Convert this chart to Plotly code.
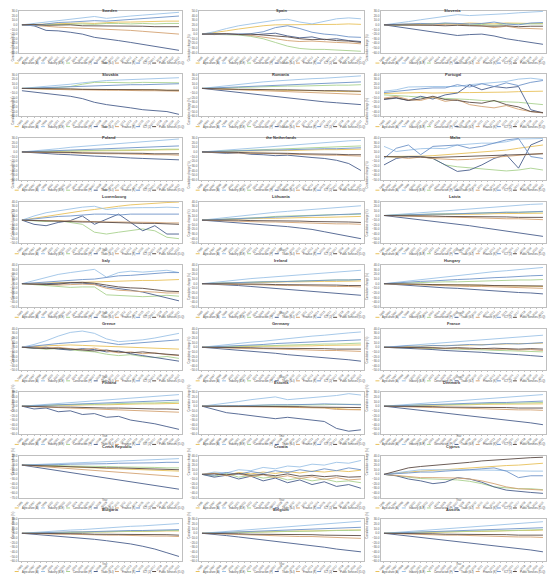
import plotly.graph_objects as go

# Годы по оси X и точки, где есть данные
years = list(range(1995, 2022))
data_years = years[::2]

series = ["Agriculture (A)", "Industry (B-E)", "Construction (F)", "Trade (G-I)",
          "Finance (K)", "ICT (J)", "Public Services (O-Q)"]
colors = ["#E8C15A", "#9DC3E6", "#A9D18E", "#4A5F8C", "#D4A373", "#6F94C8", "#5B4B44"]

countries = ["Sweden", "Spain", "Slovenia", "Slovakia", "Romania", "Portugal",
             "Poland", "the Netherlands", "Malta", "Luxembourg", "Lithuania", "Latvia",
             "Italy", "Ireland", "Hungary", "Greece", "Germany", "France",
             "Finland", "Estonia", "Denmark", "Czech Republic", "Croatia", "Cyprus",
             "Bulgaria", "Belgium", "Austria"]

y_ranges = [[-60, 30], [-40, 50], [-60, 30], [-60, 30], [-60, 30], [-50, 40],
            [-60, 30], [-60, 30], [-50, 40], [-50, 40], [-50, 40], [-60, 30],
            [-50, 40], [-50, 40], [-50, 40], [-50, 40], [-50, 40], [-50, 40],
            [-60, 30], [-60, 30], [-60, 30], [-70, 20], [-50, 40], [-50, 40],
            [-60, 30], [-60, 30], [-60, 30]]

sweden = [[0, 1, 2, 3, 4, 4, 3, 5, 6, 6, 7, 7, 8, 8],
          [0, 3, 6, 10, 13, 16, 18, 14, 17, 19, 21, 23, 25, 27],
          [0, -1, 0, 1, 1, 2, 1, 3, 3, 2, 3, 2, 3, 3],
          [0, -2, -12, -13, -16, -20, -27, -30, -34, -38, -42, -46, -50, -55],
          [0, -1, -3, -5, -6, -7, -8, -9, -11, -12, -14, -16, -18, -20],
          [0, -2, 2, 5, 6, 8, 9, 8, 10, 11, 13, 15, 17, 19],
          [0, 1, -1, -1, 0, -2, -2, -3, -2, -3, -3, -4, -4, -4]]
spain = [[0, 3, 7, 11, 15, 18, 20, 20, 21, 20, 20, 21, 22, 21],
         [0, 5, 12, 18, 22, 26, 30, 32, 26, 22, 27, 33, 35, 33],
         [0, -1, -1, -2, -5, -10, -18, -26, -31, -33, -33, -34, -36, -37],
         [0, -1, 0, -1, -2, 0, 2, -4, -8, -6, -12, -10, -14, -16],
         [0, 0, -1, 0, -3, -6, -10, -14, -16, -15, -17, -18, -19, -21],
         [0, 1, 0, 0, 1, 5, 14, 18, 12, 4, 0, -2, -6, -7],
         [0, 0, 1, -1, 0, -2, -4, -6, -10, -12, -11, -14, -15, -18]]
slovenia = [[0, 1, 1, 2, 3, 3, 2, 4, 3, 2, 4, 3, 3, 3],
            [0, 3, 7, 11, 15, 19, 22, 20, 21, 22, 24, 26, 28, 29],
            [0, -1, 0, 1, 2, 3, 2, 0, 1, -1, 2, 2, 3, 2],
            [0, -4, -8, -11, -15, -19, -23, -21, -20, -24, -30, -34, -38, -42],
            [0, 0, -1, -1, 0, 1, 2, -1, -2, -6, -3, -7, -8, -9],
            [0, 1, 2, 3, 2, 4, 3, 2, 3, 6, 2, 0, 4, 5],
            [0, 0, -1, 0, -1, -2, -1, -2, -3, -3, -2, -4, -3, -3]]
slovakia = [[0, -1, -1, -2, -2, -2, -3, -3, -2, -3, -3, -3, -4, -4],
            [0, 2, 4, 6, 9, 12, 15, 17, 18, 19, 20, 21, 22, 23],
            [0, 0, 1, 2, 4, 9, 13, 13, 12, 12, 13, 13, 12, 12],
            [-5, -8, -10, -13, -17, -22, -30, -35, -38, -42, -46, -48, -50, -56],
            [0, -1, -2, -2, -3, -3, -4, -4, -4, -5, -5, -5, -6, -6],
            [0, 1, 2, 3, 4, 5, 6, 6, 7, 8, 8, 9, 9, 10],
            [0, 0, -1, -1, -1, -2, -2, -2, -3, -3, -3, -3, -4, -4]]
romania = [[0, -1, -2, -2, -3, -3, -4, -4, -5, -5, -6, -6, -7, -7],
           [0, 3, 6, 9, 12, 14, 16, 18, 19, 21, 22, 24, 25, 27],
           [0, 0, 1, 2, 3, 3, 4, 5, 5, 6, 6, 7, 7, 8],
           [0, -3, -6, -9, -12, -15, -18, -21, -24, -27, -29, -31, -33, -35],
           [0, -1, -2, -3, -4, -5, -6, -7, -8, -9, -10, -11, -12, -13],
           [0, 1, 2, 3, 5, 6, 7, 8, 9, 10, 11, 12, 13, 14],
           [0, -1, -1, -2, -2, -3, -3, -3, -4, -4, -5, -5, -5, -6]]
portugal = [[-1, 0, 0, 1, 0, 1, 1, 1, 1, 2, 2, 3, 3, 4],
            [4, 7, 13, 14, 14, 14, 14, 18, 20, 22, 25, 30, 32, 29],
            [-4, -5, -7, -9, -10, -12, -13, -14, -16, -18, -19, -20, -23, -25],
            [-14, -11, -16, -7, -13, -4, 0, 18, 7, 14, 11, 14, -36, -43],
            [-11, -7, -14, -16, -9, -18, -14, -25, -29, -32, -27, -35, -40, -43],
            [1, 4, 7, 9, 11, 11, 18, 13, 20, 14, 22, 16, 23, 27],
            [-13, -10, -16, -13, -7, -14, -16, -20, -22, -16, -25, -30, -40, -42]]
poland = [[0, 0, 1, 1, 2, 2, 2, 3, 3, 3, 4, 4, 4, 5],
          [0, 2, 5, 7, 10, 12, 14, 16, 18, 20, 22, 24, 26, 28],
          [0, 1, 1, 2, 2, 3, 3, 4, 4, 4, 5, 5, 6, 6],
          [0, -2, -3, -5, -6, -8, -9, -10, -12, -13, -14, -15, -16, -17],
          [0, -1, -1, -2, -2, -3, -3, -4, -4, -5, -5, -6, -6, -7],
          [0, 1, 2, 3, 4, 5, 6, 7, 8, 9, 10, 11, 12, 13],
          [0, 0, -1, -1, -1, -2, -2, -2, -3, -3, -3, -4, -4, -4]]
netherlands = [[0, 1, 1, 2, 2, 3, 3, 3, 4, 4, 5, 5, 5, 6],
               [0, 2, 4, 7, 9, 11, 13, 15, 16, 18, 20, 22, 24, 25],
               [0, 1, 3, 4, 5, 6, 7, 8, 9, 10, 11, 11, 12, 13],
               [0, -1, -3, -2, -5, -6, -8, -7, -10, -12, -14, -18, -25, -40],
               [0, -1, -1, -2, -3, -3, -4, -5, -5, -6, -7, -7, -8, -9],
               [0, 1, 1, 2, 3, 4, 4, 5, 5, 6, 7, 7, 8, 9],
               [0, 0, -1, -1, -2, -2, -3, -3, -4, -4, -5, -5, -6, -6]]
malta = [[0, 0, 1, 1, 2, 4, 5, 7, 9, 12, 14, 18, 22, 25],
         [22, 11, 14, 17, 18, 17, 25, 27, 29, 29, 32, 38, 39, 39],
         [0, -1, 0, 0, -4, -18, -22, -24, -27, -29, -31, -29, -25, -29],
         [-18, -4, 0, 0, -4, -18, -32, -29, -18, -4, 4, -25, 25, 36],
         [0, -1, -4, -1, -4, -5, -7, -6, -4, -2, 0, 2, 5, 7],
         [-4, 18, 25, 4, 22, 24, 25, 18, 22, 29, 36, 39, 0, -4],
         [0, 0, -1, -1, -2, -1, -1, 0, 1, 2, 4, 4, 5, 6]]
luxembourg = [[0, 4, 9, 13, 16, 20, 23, 27, 30, 33, 35, 37, 38, 39],
              [0, 9, 16, 20, 23, 28, 30, 23, 26, 27, 27, 27, 28, 27],
              [0, -1, -3, -1, -5, -9, -26, -30, -26, -23, -19, -23, -37, -40],
              [0, -9, -12, -5, -1, 9, -9, 2, 13, -5, -23, -12, -30, -30],
              [0, -1, -1, -1, -2, -3, -3, -4, -4, -4, -5, -5, -6, -6],
              [0, 3, 6, 8, 9, 11, 13, 13, 11, 13, 13, 13, 14, 13],
              [0, -1, -1, -2, -3, -4, -4, -5, -6, -6, -7, -7, -8, -9]]
lithuania = [[0, 1, 2, 2, 3, 4, 4, 5, 5, 6, 6, 7, 7, 8],
             [0, 3, 6, 9, 12, 15, 17, 19, 21, 23, 25, 27, 29, 31],
             [0, 1, 2, 3, 5, 6, 8, 9, 9, 10, 11, 12, 12, 13],
             [0, -2, -4, -5, -7, -9, -11, -14, -17, -20, -25, -30, -35, -40],
             [0, -1, -2, -2, -3, -4, -4, -5, -6, -6, -7, -8, -8, -9],
             [0, 1, 2, 3, 4, 5, 6, 8, 9, 10, 11, 12, 13, 14],
             [0, 0, 1, 0, -1, -1, -2, -2, -2, -3, -3, -4, -4, -5]]
latvia = [[0, 0, 1, 1, 2, 2, 3, 3, 3, 4, 4, 5, 5, 5],
          [0, 2, 5, 7, 9, 11, 13, 15, 17, 19, 20, 22, 24, 25],
          [0, 1, 2, 2, 3, 4, 4, 5, 6, 6, 7, 7, 8, 8],
          [0, -3, -6, -9, -12, -16, -19, -22, -26, -30, -33, -37, -41, -45],
          [0, -1, -1, -2, -3, -3, -4, -5, -5, -6, -7, -7, -8, -9],
          [0, 1, 1, 2, 3, 3, 4, 5, 5, 6, 7, 7, 8, 9],
          [0, 0, -1, -1, -1, -2, -2, -2, -3, -3, -3, -4, -4, -4]]
italy = [[0, 1, 1, 2, 3, 3, 4, 5, 5, 6, 7, 7, 8, 9],
         [0, 7, 14, 20, 24, 27, 31, 14, 24, 27, 25, 27, 29, 24],
         [0, -2, -5, -7, -8, -7, -7, -24, -25, -27, -28, -27, -25, -27],
         [0, -1, 0, 1, 2, 1, -1, -7, -10, -14, -18, -24, -31, -37],
         [0, -1, -3, -3, -2, -1, -2, -10, -14, -16, -17, -18, -20, -20],
         [0, 2, 3, 5, 7, 9, 10, 14, 17, 18, 20, 22, 24, 24],
         [0, -1, -2, -1, 2, 3, 1, -3, -7, -9, -10, -13, -16, -17]]
ireland = [[0, 1, 1, 2, 2, 3, 3, 4, 4, 5, 5, 5, 6, 6],
           [0, 3, 6, 8, 11, 13, 15, 17, 19, 21, 23, 25, 27, 29],
           [0, 1, 2, 3, 3, 4, 5, 5, 6, 7, 7, 8, 8, 9],
           [0, -1, -3, -4, -6, -8, -10, -12, -14, -16, -18, -20, -23, -25],
           [0, -1, -1, -2, -2, -3, -3, -4, -4, -5, -5, -6, -6, -7],
           [0, 1, 2, 2, 3, 4, 4, 5, 6, 6, 7, 8, 8, 9],
           [0, 0, 0, -1, -1, -1, -2, -2, -2, -3, -3, -3, -4, -4]]
hungary = [[0, -1, -1, -2, -2, -3, -3, -3, -4, -4, -5, -5, -5, -6],
           [0, 3, 6, 9, 12, 15, 18, 21, 23, 26, 28, 30, 33, 35],
           [0, 1, 2, 2, 3, 4, 4, 5, 6, 6, 7, 8, 8, 9],
           [0, -2, -4, -5, -7, -9, -10, -12, -14, -15, -17, -19, -20, -22],
           [0, -1, -2, -3, -3, -4, -5, -6, -6, -7, -8, -8, -9, -10],
           [0, 2, 3, 5, 6, 8, 9, 10, 12, 13, 14, 16, 17, 18],
           [0, 0, -1, -1, -2, -2, -2, -3, -3, -4, -4, -4, -5, -5]]
greece = [[0, 2, 3, 4, 5, 4, 3, 2, 1, 0, -1, -2, -3, -4],
          [0, 6, 14, 24, 32, 35, 30, 18, 12, 14, 16, 20, 25, 30],
          [0, -2, -4, -3, -6, -8, -10, -15, -18, -16, -20, -22, -20, -24],
          [0, -2, 0, -4, -6, -3, -5, -10, -8, -14, -18, -22, -26, -30],
          [0, 1, -2, 0, -3, -5, -2, -8, -12, -10, -14, -12, -16, -18],
          [0, 3, 6, 8, 10, 12, 14, 10, 6, 8, 10, 12, 14, 16],
          [0, -1, -3, -2, -4, -6, -8, -6, -10, -12, -10, -13, -15, -17]]
germany = [[0, 0, 1, 1, 2, 2, 2, 3, 3, 3, 4, 4, 4, 5],
           [0, 3, 5, 8, 11, 13, 16, 19, 21, 24, 26, 29, 31, 33],
           [0, 1, 1, 2, 3, 3, 4, 5, 5, 6, 7, 7, 8, 9],
           [0, -2, -4, -7, -9, -11, -13, -16, -18, -20, -22, -25, -27, -30],
           [0, -1, -1, -2, -3, -3, -4, -5, -5, -6, -7, -7, -8, -9],
           [0, 1, 3, 4, 5, 6, 8, 9, 10, 11, 13, 14, 15, 16],
           [0, 0, -1, -1, -1, -2, -2, -2, -3, -3, -3, -4, -4, -4]]
france = [[0, 1, 2, 2, 3, 4, 4, 5, 6, 6, 7, 8, 8, 9],
          [0, 2, 4, 6, 8, 10, 12, 14, 16, 18, 20, 22, 24, 26],
          [0, -1, -1, -2, -3, -3, -4, -5, -6, -6, -7, -8, -9, -10],
          [0, -1, -3, -4, -5, -7, -8, -10, -11, -13, -14, -16, -18, -20],
          [0, -1, 0, -2, -1, -3, -2, -4, -3, -5, -4, -6, -5, -7],
          [0, 1, 3, 2, 4, 3, 5, 6, 5, 7, 8, 7, 9, 10],
          [0, 0, -1, 0, -1, -2, -1, -2, -3, -2, -3, -4, -3, -4]]
finland = [[0, 1, 1, 2, 2, 3, 3, 3, 4, 4, 5, 5, 5, 6],
           [0, 2, 4, 6, 8, 10, 12, 14, 15, 17, 19, 21, 23, 25],
           [0, 1, 2, 2, 3, 4, 4, 5, 6, 6, 7, 7, 8, 9],
           [0, -6, -4, -12, -10, -18, -16, -24, -22, -30, -34, -38, -44, -50],
           [0, -1, -2, -3, -4, -5, -6, -7, -8, -9, -10, -11, -12, -13],
           [0, 1, 2, 3, 4, 5, 6, 7, 8, 9, 10, 11, 12, 13],
           [0, -1, -1, -2, -2, -3, -3, -4, -4, -5, -5, -6, -6, -7]]
estonia = [[0, 0, -1, -1, -1, -1, -1, -2, -2, -3, -3, -5, -7, -7],
           [0, 3, 7, 10, 14, 17, 20, 14, 16, 18, 20, 23, 27, 24],
           [0, 0, 1, 1, 1, 2, 2, 3, 3, 3, 3, 4, 4, 4],
           [0, -7, -14, -17, -20, -24, -27, -24, -27, -31, -33, -48, -54, -51],
           [0, -1, -1, -1, -1, -2, -2, -2, -3, -3, -4, -7, -8, -8],
           [0, 1, 1, 1, 2, 2, 3, 3, 3, 4, 5, 4, 3, 3],
           [0, 0, 0, -1, -1, -1, -1, -1, -1, -2, -2, -3, -3, -3]]
denmark = [[0, 1, 1, 2, 2, 2, 3, 3, 4, 4, 4, 5, 5, 5],
           [0, 2, 4, 6, 8, 10, 12, 14, 16, 17, 19, 21, 23, 25],
           [0, 1, 1, 2, 3, 3, 4, 4, 5, 6, 6, 7, 7, 8],
           [0, -3, -6, -9, -11, -14, -17, -20, -23, -26, -29, -32, -36, -40],
           [0, -1, -1, -2, -3, -3, -4, -5, -6, -6, -7, -8, -8, -9],
           [0, 1, 2, 3, 3, 4, 5, 6, 7, 8, 8, 9, 10, 11],
           [0, 0, -1, -1, -1, -2, -2, -2, -3, -3, -3, -4, -4, -4]]
czech_republic = [[0, -1, -2, -3, -4, -5, -6, -7, -8, -9, -10, -11, -12, -13],
                  [0, 1, 3, 4, 5, 6, 7, 8, 9, 10, 11, 12, 13, 14],
                  [0, 0, -1, -1, -2, -2, -3, -3, -4, -4, -5, -5, -6, -6],
                  [0, -4, -8, -12, -16, -20, -24, -28, -32, -36, -40, -44, -48, -52],
                  [0, -2, -3, -5, -7, -9, -11, -13, -15, -17, -19, -21, -23, -25],
                  [0, 0, 1, 1, 2, 2, 3, 3, 4, 4, 5, 5, 6, 6],
                  [0, -1, -2, -2, -3, -4, -5, -6, -6, -7, -8, -9, -10, -10]]
croatia = [[0, 3, -2, 4, 1, 5, 2, 6, 3, 7, 5, 8, 6, 9],
           [0, 5, 3, 10, 8, 15, 12, 18, 16, 22, 20, 26, 24, 30],
           [0, -4, 2, -6, -2, -8, -5, -12, -8, -14, -10, -16, -14, -18],
           [0, -6, -2, -10, -4, -14, -8, -18, -12, -22, -16, -26, -22, -30],
           [0, 2, -3, 1, -5, -1, -7, -3, -9, -5, -11, -7, -12, -10],
           [0, -2, 4, 0, 6, 2, 8, 4, 10, 6, 12, 8, 14, 10],
           [0, 1, -1, 2, -2, 0, -3, 1, -4, -2, -5, -3, -6, -5]]
cyprus = [[0, 3, 5, 7, 8, 10, 12, 14, 16, 17, 19, 20, 22, 24],
          [0, 3, 7, 10, 10, 10, 10, 10, 10, 9, 8, 7, 7, 7],
          [0, -3, -7, -9, -10, -11, -12, -15, -20, -27, -29, -31, -31, -33],
          [0, -3, -10, -14, -20, -17, -7, -10, -17, -27, -34, -37, -39, -41],
          [0, -2, -5, -7, -7, -7, -8, -10, -14, -20, -27, -31, -33, -34],
          [0, 1, 3, 5, 5, 7, 8, 10, 12, 14, 7, -7, -3, -3],
          [0, 7, 14, 17, 19, 22, 24, 26, 29, 31, 33, 34, 36, 37]]
bulgaria = [[0, 1, 1, 2, 2, 3, 3, 3, 4, 4, 4, 5, 5, 5],
            [0, 2, 3, 5, 7, 8, 10, 12, 13, 15, 16, 18, 19, 21],
            [0, 0, 1, 1, 2, 2, 3, 3, 4, 4, 5, 5, 6, 6],
            [0, -2, -4, -6, -8, -10, -13, -16, -19, -23, -28, -34, -42, -50],
            [0, -1, -1, -2, -2, -3, -3, -4, -4, -5, -5, -6, -6, -7],
            [0, 1, 1, 2, 3, 3, 4, 4, 5, 6, 6, 7, 7, 8],
            [0, 0, -1, -1, -1, -1, -2, -2, -2, -3, -3, -3, -3, -4]]
belgium = [[0, 1, 2, 2, 3, 3, 4, 4, 5, 5, 6, 6, 7, 7],
           [0, 2, 4, 6, 8, 10, 12, 14, 16, 18, 20, 22, 24, 26],
           [0, 1, 1, 2, 2, 3, 3, 4, 4, 5, 5, 6, 6, 7],
           [0, -2, -5, -8, -11, -14, -17, -20, -23, -27, -30, -34, -37, -40],
           [0, -1, -2, -3, -3, -4, -5, -6, -7, -7, -8, -9, -10, -11],
           [0, 1, 2, 3, 4, 5, 6, 7, 8, 9, 10, 11, 12, 13],
           [0, 0, -1, -1, -2, -2, -2, -3, -3, -3, -4, -4, -5, -5]]
austria = [[0, 1, 1, 2, 2, 3, 3, 4, 4, 5, 5, 6, 6, 7],
           [0, 2, 4, 5, 7, 9, 11, 13, 15, 17, 19, 21, 23, 25],
           [0, 1, 1, 2, 3, 3, 4, 4, 5, 5, 6, 6, 7, 8],
           [0, -3, -6, -8, -11, -14, -17, -20, -23, -26, -29, -33, -36, -40],
           [0, -1, -2, -2, -3, -4, -4, -5, -6, -6, -7, -8, -8, -9],
           [0, 1, 2, 3, 4, 5, 6, 6, 7, 8, 9, 10, 11, 12],
           [0, 0, -1, -1, -1, -2, -2, -2, -3, -3, -3, -4, -4, -4]]

all_data = [sweden, spain, slovenia, slovakia, romania, portugal, poland, netherlands,
            malta, luxembourg, lithuania, latvia, italy, ireland, hungary, greece,
            germany, france, finland, estonia, denmark, czech_republic, croatia,
            cyprus, bulgaria, belgium, austria]

W, H = 550, 577
col_left = [16, 197, 380]
col_right = [180, 363, 546]
row_pitch = 64.0
FONT = "Arial, Liberation Sans, sans-serif"
LEG_SIZE = 2.6
CHAR_W = 0.5 * LEG_SIZE  # примерная ширина символа

fig = go.Figure()
annotations = []
shapes = []
tick_font = dict(family=FONT, size=3, color="#595959")

# ширина каждого пункта легенды: черта + подпись + зазор
item_w = [4 + 1 + len(s) * CHAR_W + 2 for s in series]
legend_w = sum(item_w)

for i, (country, values) in enumerate(zip(countries, all_data)):
    r, c = divmod(i, 3)
    n = i + 1
    xname = "x" if n == 1 else f"x{n}"
    yname = "y" if n == 1 else f"y{n}"
    top = 9 + r * row_pitch
    bottom = 51 + r * row_pitch

    for s, col, vals in zip(series, colors, values):
        fig.add_trace(go.Scatter(x=data_years, y=vals, mode="lines", name=s,
                                 line=dict(color=col, width=0.9),
                                 xaxis=xname, yaxis=yname, showlegend=False))

    lo, hi = y_ranges[i]
    fig.layout[f"xaxis{'' if n == 1 else n}"] = dict(
        domain=[col_left[c] / W, col_right[c] / W], anchor=yname,
        range=[1994.5, 2021.5], tickvals=years, tickangle=-45, tickfont=tick_font,
        showgrid=False, zeroline=False, showline=True, mirror=True,
        linecolor="#bfbfbf", linewidth=0.6, ticks="outside", ticklen=1,
        tickcolor="#bfbfbf", tickwidth=0.5)
    fig.layout[f"yaxis{'' if n == 1 else n}"] = dict(
        domain=[1 - bottom / H, 1 - top / H], anchor=xname,
        range=[lo, hi], dtick=10, tickformat=".1f", tickfont=tick_font,
        showgrid=False, zeroline=False, showline=True, mirror=True,
        linecolor="#bfbfbf", linewidth=0.6, ticks="", ticklen=1)

    cxp = (col_left[c] + col_right[c]) / 2
    annotations.append(dict(x=cxp / W, y=1 - (4 + r * row_pitch) / H, xref="paper", yref="paper",
                            text=f"<b>{country}</b>", showarrow=False,
                            font=dict(family=FONT, size=4, color="#404040")))
    annotations.append(dict(x=(col_left[c] - 10) / W, y=1 - (30 + r * row_pitch) / H,
                            xref="paper", yref="paper", text="Cumulative change (%)",
                            textangle=-90, showarrow=False,
                            font=dict(family=FONT, size=2.6, color="#595959")))
    annotations.append(dict(x=cxp / W, y=1 - (57.5 + r * row_pitch) / H, xref="paper", yref="paper",
                            text="Year", showarrow=False,
                            font=dict(family=FONT, size=2.6, color="#595959")))

    # легенда под графиком
    ly = 1 - (61.5 + r * row_pitch) / H
    x0 = min(cxp - legend_w / 2, W - 3 - legend_w)
    for s, col, w in zip(series, colors, item_w):
        shapes.append(dict(type="line", xref="paper", yref="paper",
                           x0=x0 / W, x1=(x0 + 4) / W, y0=ly, y1=ly,
                           line=dict(color=col, width=1)))
        annotations.append(dict(x=(x0 + 5) / W, y=ly, xref="paper", yref="paper",
                                xanchor="left", yanchor="middle", text=s, showarrow=False,
                                font=dict(family=FONT, size=LEG_SIZE, color="#404040")))
        x0 += w

fig.update_layout(width=W, height=H, margin=dict(l=0, r=0, t=0, b=0),
                  paper_bgcolor="white", plot_bgcolor="white",
                  annotations=annotations, shapes=shapes, showlegend=False)

# убираем отступ body, чтобы график занимал всё окно
fig.write_html("out.html", config={"displayModeBar": False},
               post_script="document.body.style.margin='0px';")
